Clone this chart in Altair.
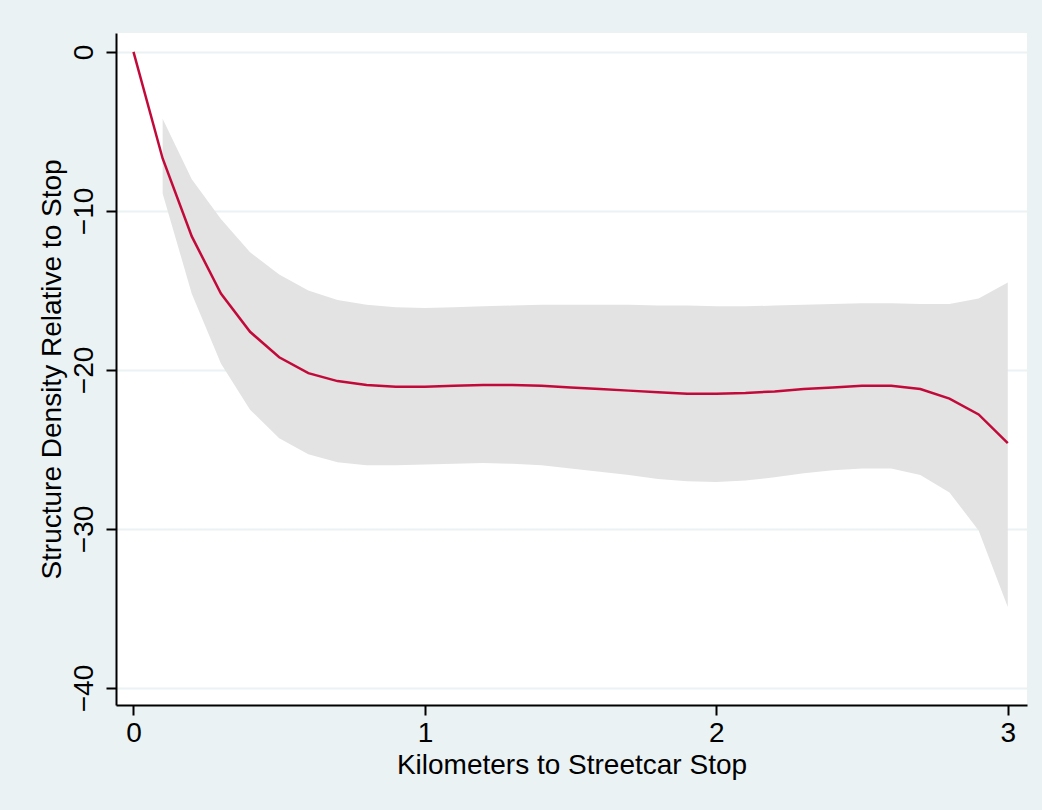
import altair as alt
import pandas as pd

# Distance from the stop (km) and the fitted structure-density gap
km = [0.0, 0.1, 0.2, 0.3, 0.4, 0.5, 0.6, 0.7, 0.8, 0.9, 1.0,
      1.1, 1.2, 1.3, 1.4, 1.5, 1.6, 1.7, 1.8, 1.9, 2.0,
      2.1, 2.2, 2.3, 2.4, 2.5, 2.6, 2.7, 2.8, 2.9, 3.0]
fit = [0.0, -6.7, -11.6, -15.2, -17.6, -19.2, -20.2, -20.7, -20.95, -21.05, -21.05,
       -21.0, -20.95, -20.95, -21.0, -21.1, -21.2, -21.3, -21.4, -21.5, -21.5,
       -21.45, -21.35, -21.2, -21.1, -21.0, -21.0, -21.2, -21.8, -22.8, -24.6]

# Confidence band (starts at 0.1 km)
ci_km = km[1:]
ci_upper = [-4.2, -8.0, -10.5, -12.6, -14.0, -15.0, -15.6, -15.9, -16.05, -16.1,
            -16.05, -16.0, -15.95, -15.9, -15.9, -15.9, -15.9, -15.95, -15.95, -16.0,
            -16.0, -15.95, -15.9, -15.85, -15.8, -15.8, -15.85, -15.85, -15.5, -14.5]
ci_lower = [-8.9, -15.2, -19.6, -22.5, -24.3, -25.3, -25.8, -26.0, -26.0, -25.95,
            -25.9, -25.85, -25.9, -26.0, -26.2, -26.4, -26.6, -26.85, -27.0, -27.05,
            -26.95, -26.75, -26.5, -26.3, -26.2, -26.2, -26.6, -27.7, -30.1, -34.9]

x_ticks = [0, 1, 2, 3]
y_ticks = [0, -10, -20, -30, -40]

fit_df = pd.DataFrame({"km": km, "fit": fit})
ci_df = pd.DataFrame({"km": ci_km, "lo": ci_lower, "hi": ci_upper})

FONT = "Liberation Sans"
BG = "#EAF2F3"
FS = 28

x_scale = alt.Scale(domain=[-0.06, 3.066], nice=False, zero=False)
y_scale = alt.Scale(domain=[-41.07, 1.19], nice=False, zero=False)

x_axis = alt.Axis(
    title="Kilometers to Streetcar Stop", values=x_ticks, format="d",
    grid=False, domainColor="black", domainWidth=2, tickColor="black",
    tickWidth=2, tickSize=10, labelFont=FONT, labelFontSize=FS,
    labelColor="black", labelBaseline="alphabetic", labelPadding=26,
    titleFont=FONT, titleFontSize=FS, titleFontWeight="normal",
    titleColor="black", titleBaseline="alphabetic", titleY=68,
)
y_axis = alt.Axis(
    title="Structure Density Relative to Stop", values=y_ticks, format="d",
    grid=True, gridColor=BG, gridWidth=2, domainColor="black", domainWidth=2,
    tickColor="black", tickWidth=2, tickSize=10, labelFont=FONT,
    labelFontSize=FS, labelColor="black", labelAngle=270,
    labelAlign="center", labelBaseline="alphabetic", labelPadding=14,
    titleFont=FONT, titleFontSize=FS, titleFontWeight="normal",
    titleColor="black", titleAngle=270, titleBaseline="alphabetic",
    titleX=-56,
)

band = alt.Chart(ci_df).mark_area(color="#E3E3E3", opacity=1).encode(
    x=alt.X("km:Q", scale=x_scale, axis=x_axis),
    y=alt.Y("lo:Q", scale=y_scale, axis=y_axis),
    y2="hi:Q",
)

line = alt.Chart(fit_df).mark_line(color="#C20A3A", strokeWidth=2.5).encode(
    x=alt.X("km:Q", scale=x_scale),
    y=alt.Y("fit:Q", scale=y_scale),
)

chart = (
    alt.layer(band, line)
    .properties(
        width=911, height=672,
        autosize=alt.AutoSizeParams(type="none"),
        padding={"left": 116, "top": 33, "right": 15, "bottom": 105},
        background=BG,
    )
    .configure_view(fill="white", stroke=None)
)

chart.save("out.html", embed_options={"renderer": "svg", "actions": False})
